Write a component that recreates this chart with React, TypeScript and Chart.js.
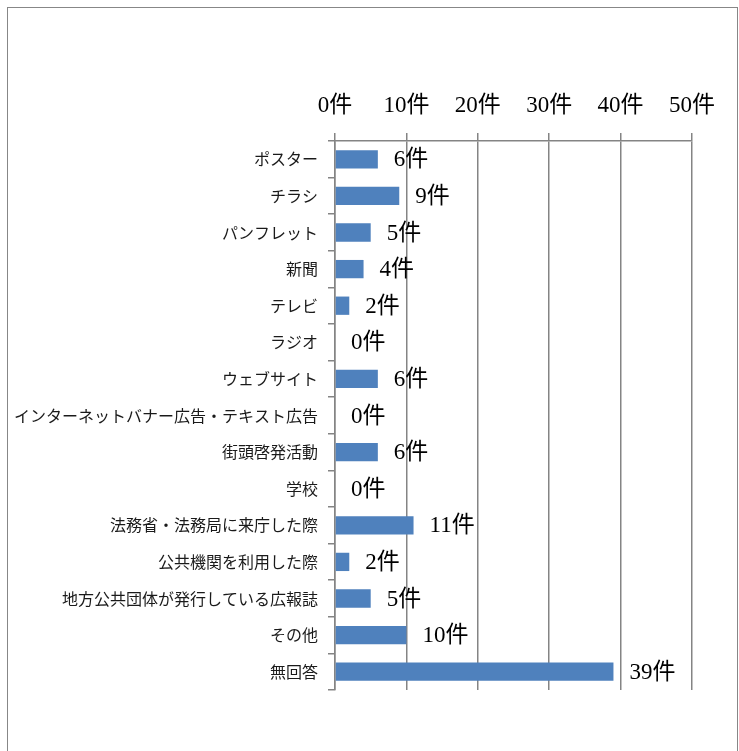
import React, { useEffect, useRef } from "react";
import { Chart, registerables } from "chart.js";

Chart.register(...registerables);

const categories = [
  "ポスター",
  "チラシ",
  "パンフレット",
  "新聞",
  "テレビ",
  "ラジオ",
  "ウェブサイト",
  "インターネットバナー広告・テキスト広告",
  "街頭啓発活動",
  "学校",
  "法務省・法務局に来庁した際",
  "公共機関を利用した際",
  "地方公共団体が発行している広報誌",
  "その他",
  "無回答",
];
const counts = [6, 9, 5, 4, 2, 0, 6, 0, 6, 0, 11, 2, 5, 10, 39];
const unit = "件";
const axisMax = 50;
const axisStep = 10;

const serifFont = "'Liberation Serif', 'Noto Sans CJK JP', serif";
const sansFont = "'Noto Sans CJK JP', sans-serif";
const lineColor = "#848484";

const valueLabels = {
  id: "valueLabels",
  afterDatasetsDraw(chart: any) {
    const ctx = chart.ctx;
    const meta = chart.getDatasetMeta(0);
    ctx.save();
    ctx.font = `23px ${serifFont}`;
    ctx.fillStyle = "#000";
    ctx.textAlign = "left";
    ctx.textBaseline = "middle";
    meta.data.forEach((el: any, i: number) => {
      ctx.fillText(`${counts[i]}${unit}`, el.x + 16, el.y + 1);
    });
    ctx.restore();
  },
};

export default function App() {
  const ref = useRef<HTMLCanvasElement | null>(null);
  useEffect(() => {
    if (!ref.current) return;
    const chart = new Chart(ref.current, {
      type: "bar",
      data: {
        labels: categories,
        datasets: [
          {
            data: counts,
            backgroundColor: "#4F81BD",
            borderWidth: 0,
            barPercentage: 0.5,
            categoryPercentage: 1,
          },
        ],
      },
      options: {
        indexAxis: "y",
        animation: false,
        responsive: false,
        maintainAspectRatio: false,
        layout: { padding: { left: 0, right: 45, top: 0, bottom: 61 } },
        plugins: {
          legend: { display: false },
          tooltip: { enabled: false },
        },
        scales: {
          x: {
            position: "top",
            min: 0,
            max: axisMax,
            afterFit: (s: any) => {
              s.height = 133;
            },
            ticks: {
              stepSize: axisStep,
              padding: 13,
              color: "#000",
              font: { family: serifFont, size: 23 },
              callback: (v: any) => `${v}${unit}`,
            },
            grid: {
              color: lineColor,
              lineWidth: 1.5,
              drawTicks: true,
              tickLength: 8,
            },
            border: { display: true, color: lineColor, width: 1.5 },
          },
          y: {
            afterFit: (s: any) => {
              s.width = 327;
            },
            ticks: {
              padding: 10,
              color: "#1a1a1a",
              font: { family: sansFont, size: 16 },
              autoSkip: false,
            },
            grid: {
              display: true,
              drawOnChartArea: false,
              drawTicks: true,
              tickLength: 7,
              offset: true,
              color: lineColor,
              lineWidth: 1.5,
            },
            border: { display: true, color: lineColor, width: 1.5 },
          },
        },
      },
      plugins: [valueLabels],
    });
    return () => chart.destroy();
  }, []);

  return (
    <div
      style={{
        position: "fixed",
        left: 0,
        top: 0,
        width: 739,
        height: 751,
        overflow: "hidden",
        background: "#fff",
      }}
    >
      <div
        style={{
          position: "absolute",
          left: 7,
          top: 7,
          width: 731,
          height: 800,
          boxSizing: "border-box",
          border: "1px solid #878787",
        }}
      >
        <canvas ref={ref} width={729} height={743} style={{ display: "block" }} />
      </div>
    </div>
  );
}
